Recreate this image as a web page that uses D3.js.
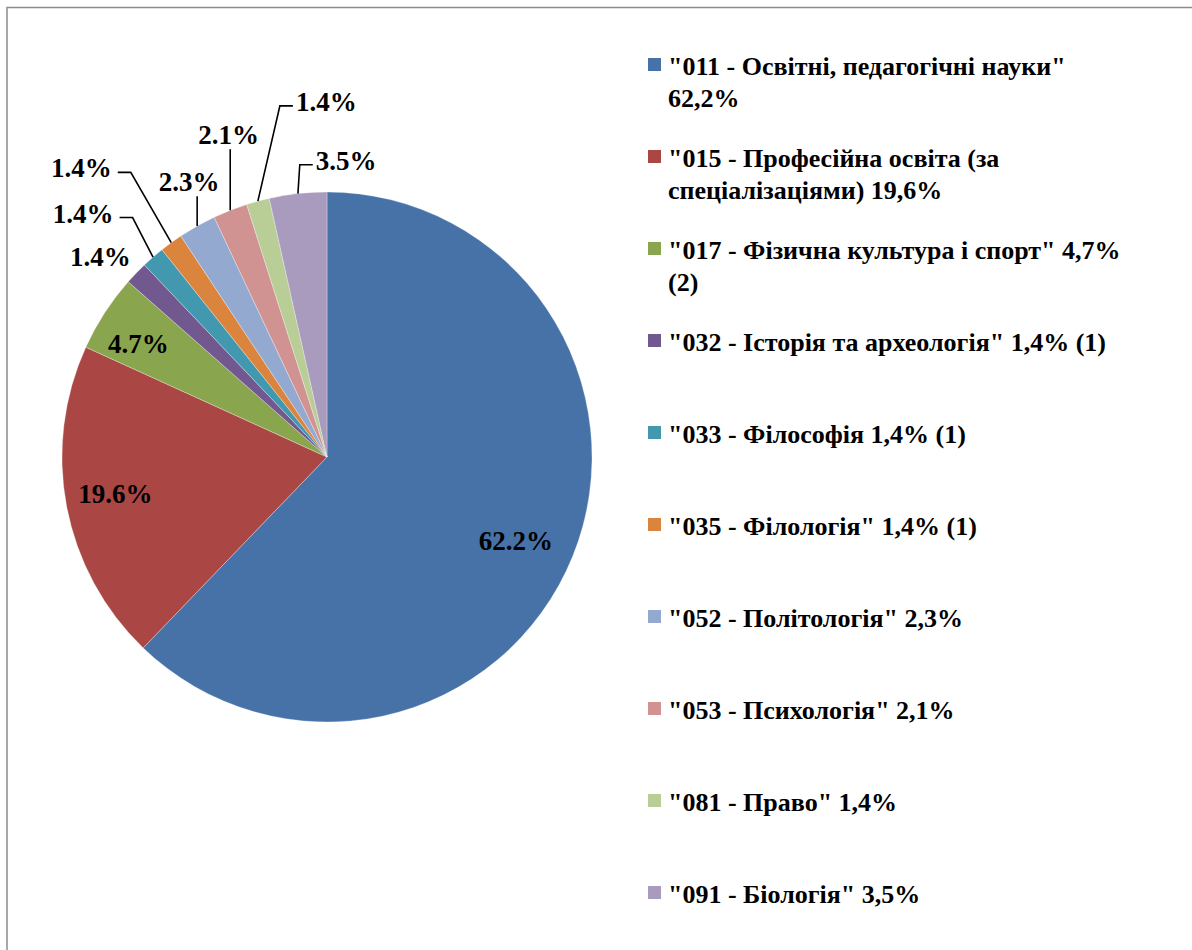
<!DOCTYPE html>
<html>
<head>
<meta charset="utf-8">
<script src="https://cdn.jsdelivr.net/npm/d3@7"></script>
<style>
  html, body { margin: 0; padding: 0; background: #fff; }
  svg { display: block; }
</style>
</head>
<body>
<svg id="chart"></svg>
<script>
var width = 1192,
    height = 950,
    fontFamily = 'Liberation Serif';

// data
var codes = ['011', '015', '017', '032', '033', '035', '052', '053', '081', '091'];
var legendLines = [
    ['"011 - Освітні, педагогічні науки"', '62,2%'],
    ['"015 - Професійна освіта (за', 'спеціалізаціями) 19,6%'],
    ['"017 - Фізична культура і спорт" 4,7%', '(2)'],
    ['"032 - Історія та археологія" 1,4% (1)'],
    ['"033 - Філософія 1,4% (1)'],
    ['"035 - Філологія" 1,4% (1)'],
    ['"052 - Політологія" 2,3%'],
    ['"053 - Психологія" 2,1%'],
    ['"081 - Право" 1,4%'],
    ['"091 - Біологія" 3,5%']
];
var values = [62.2, 19.6, 4.7, 1.4, 1.4, 1.4, 2.3, 2.1, 1.4, 3.5];
var colors = ['#4672A8', '#AA4744', '#89A54E', '#71588F', '#4198AF',
              '#DB843D', '#93A9CF', '#D19392', '#B9CD96', '#A99BBD'];

// label placement: radius factor and angle nudge (degrees), leader on/off
var labelRadius = [0.78, 0.81, 0.83, 1.14, 1.30, 1.43, 1.16, 1.27, 1.34, 1.12];
var labelNudge  = [2, 1, -2, -2.5, -4, -4.4, 2.7, 4.4, 15, 10];
var hasLeader   = [false, false, false, false, true, true, true, true, true, true];

var cx = 327, cy = 457, radius = 265;

var svg = d3.select('svg#chart')
    .attr('width', width)
    .attr('height', height);

// outer frame
svg.append('rect')
    .attr('x', 7)
    .attr('y', 7.5)
    .attr('width', width + 20)
    .attr('height', height + 20)
    .attr('fill', 'white')
    .attr('stroke', '#8c8c8c')
    .attr('stroke-width', 1.5);

var pie = d3.pie().sort(null).value(function (d) { return d; });
var arcs = pie(values);
var arc = d3.arc().innerRadius(0).outerRadius(radius);

var g = svg.append('g').attr('transform', 'translate(' + cx + ',' + cy + ')');

g.selectAll('path.slice')
    .data(arcs)
    .enter().append('path')
    .attr('class', 'slice')
    .attr('d', arc)
    .attr('fill', function (d, i) { return colors[i]; })
    .attr('stroke', 'rgba(255,255,255,0.5)')
    .attr('stroke-width', 0.6);

function polar(angle, r) {
    return [r * Math.sin(angle), -r * Math.cos(angle)];
}

var fmt = d3.format('.1f');

arcs.forEach(function (d, i) {
    var mid = (d.startAngle + d.endAngle) / 2;
    var pos = polar(mid + labelNudge[i] * Math.PI / 180, radius * labelRadius[i]);
    g.append('text')
        .attr('x', pos[0])
        .attr('y', pos[1] + 9)
        .attr('text-anchor', 'middle')
        .attr('font-family', fontFamily)
        .attr('font-weight', 'bold')
        .attr('font-size', '27px')
        .attr('fill', '#000')
        .text(fmt(values[i]) + '%');

    if (!hasLeader[i]) return;

    // label width in Times-like metrics: digits 0.5em, point 0.25em, % 1em
    var w = 27 * 2.25;
    var left = pos[0] - w / 2, right = pos[0] + w / 2;
    var edge = polar(mid, radius);
    var lineY = pos[1] + 4;
    var points;
    if (edge[0] > right) {
        points = [[right + 6, lineY], [right + 19, lineY], edge];
    } else if (edge[0] < left) {
        points = [[left - 3, lineY], [left - 16, lineY], edge];
    } else {
        points = [[edge[0], pos[1] + 14], edge];
    }
    g.append('path')
        .attr('d', d3.line()(points))
        .attr('fill', 'none')
        .attr('stroke', '#000')
        .attr('stroke-width', 1.6);
});

// legend
var legendX = 648,
    legendTop = 58,
    legendStep = 92,
    swatch = 13,
    textX = 668,
    lineHeight = 32;

var legend = svg.append('g');

legendLines.forEach(function (lines, i) {
    var top = legendTop + i * legendStep;
    legend.append('rect')
        .attr('x', legendX)
        .attr('y', top)
        .attr('width', swatch)
        .attr('height', swatch)
        .attr('fill', colors[i]);

    lines.forEach(function (ln, j) {
        legend.append('text')
            .attr('x', textX)
            .attr('y', top + 17 + j * lineHeight)
            .attr('font-family', fontFamily)
            .attr('font-weight', 'bold')
            .attr('font-size', '26px')
            .attr('fill', '#000')
            .text(ln);
    });
});
</script>
</body>
</html>
